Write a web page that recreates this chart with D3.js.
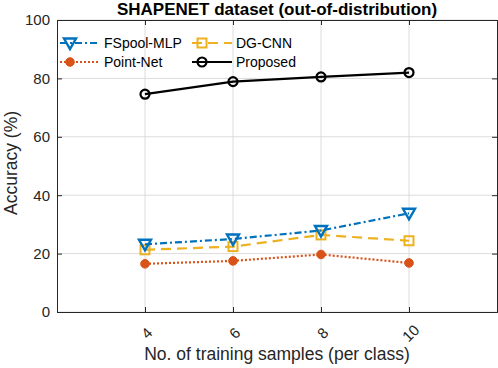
<!DOCTYPE html>
<html><head><meta charset="utf-8">
<script src="https://cdn.jsdelivr.net/npm/d3@7"></script>
<style>body{margin:0;background:#fff;} text{font-family:"Liberation Sans",Arial,Helvetica,sans-serif;}</style>
</head><body>
<svg id="c" width="498" height="368"></svg>
<script>
const samples = [4, 6, 8, 10];
const fspool = [23.2, 25.0, 27.9, 33.8];
const dgcnn = [21.3, 22.4, 26.4, 24.4];
const pointnet = [16.5, 17.5, 19.7, 16.8];
const proposed = [74.6, 78.9, 80.5, 82.0];
const yTicks = [0, 20, 40, 60, 80, 100];
const xTicks = [4, 6, 8, 10];

const svg = d3.select('#c');
const L = 57, R = 497, T = 20, B = 312;
const x = d3.scaleLinear().domain([2, 12]).range([L, R]);
const y = d3.scaleLinear().domain([0, 100]).range([B, T]);
const axisCol = '#262626';

// grid
const g = svg.append('g');
g.selectAll('.gx').data(xTicks).enter().append('line')
  .attr('x1', d => x(d)).attr('x2', d => x(d)).attr('y1', T).attr('y2', B)
  .attr('stroke', '#dcdcdc').attr('stroke-width', 1);
g.selectAll('.gy').data(yTicks).enter().append('line')
  .attr('y1', d => y(d)).attr('y2', d => y(d)).attr('x1', L).attr('x2', R)
  .attr('stroke', '#dcdcdc').attr('stroke-width', 1);

// axes with inward ticks
const ax = svg.append('g');
const yAx = ax.append('g').attr('transform', `translate(${L},0)`)
  .call(d3.axisLeft(y).tickValues(yTicks).tickSize(-5).tickPadding(7).tickFormat(d3.format('d')));
const yAxR = ax.append('g').attr('transform', `translate(${R},0)`)
  .call(d3.axisRight(y).tickValues(yTicks).tickSize(-5).tickFormat(''));
const xAx = ax.append('g').attr('transform', `translate(0,${B})`)
  .call(d3.axisBottom(x).tickValues(xTicks).tickSize(-5).tickFormat(''));
const xAxT = ax.append('g').attr('transform', `translate(0,${T})`)
  .call(d3.axisTop(x).tickValues(xTicks).tickSize(-5).tickFormat(''));
[yAx, yAxR, xAx, xAxT].forEach(a => {
  a.select('.domain').attr('stroke', axisCol).attr('stroke-width', 1);
  a.selectAll('.tick line').attr('stroke', axisCol);
});
yAx.selectAll('.tick text').attr('font-size', 15).attr('fill', axisCol)
  .attr('font-family', '"Liberation Sans",Arial,sans-serif');
// x tick labels rotated
xAx.selectAll('.tick').append('text')
  .attr('x', 1).attr('y', 21)
  .attr('transform', 'rotate(-45,1,21)')
  .attr('text-anchor', 'middle').attr('dominant-baseline', 'central')
  .attr('font-size', 15).attr('fill', axisCol)
  .text(d => d);

// title and labels
svg.append('text').attr('x', (L + R) / 2).attr('y', 15).attr('text-anchor', 'middle')
  .attr('font-size', 17).attr('font-weight', 'bold').attr('fill', '#000')
  .text('SHAPENET dataset (out-of-distribution)');
svg.append('text').attr('x', (L + R) / 2).attr('y', 360).attr('text-anchor', 'middle')
  .attr('font-size', 17.5).attr('fill', axisCol)
  .text('No. of training samples (per class)');
svg.append('text').attr('transform', `translate(17,${(T + B) / 2 - 3}) rotate(-90)`)
  .attr('text-anchor', 'middle').attr('font-size', 17.5).attr('fill', axisCol)
  .text('Accuracy (%)');

const series = [
  {name: 'FSpool-MLP', vals: fspool, color: '#0072BD', dash: '7,3,2,3', marker: 'tri'},
  {name: 'DG-CNN', vals: dgcnn, color: '#EDB120', dash: '10,6', marker: 'sq'},
  {name: 'Point-Net', vals: pointnet, color: '#D95319', dash: '2,2', marker: 'dot'},
  {name: 'Proposed', vals: proposed, color: '#000000', dash: null, marker: 'circ'}
];

function drawMarker(sel, m, color) {
  if (m === 'tri') {
    sel.append('path').attr('d', 'M-6,-4.5 L6,-4.5 L0,6 Z')
      .attr('fill', 'none').attr('stroke', color).attr('stroke-width', 2.4).attr('stroke-linejoin', 'miter');
  } else if (m === 'sq') {
    sel.append('rect').attr('x', -4.5).attr('y', -4.5).attr('width', 9).attr('height', 9)
      .attr('fill', 'none').attr('stroke', color).attr('stroke-width', 2);
  } else if (m === 'dot') {
    sel.append('circle').attr('r', 4.3).attr('fill', color).attr('stroke', color).attr('stroke-width', 1);
  } else {
    sel.append('circle').attr('r', 4.5).attr('fill', 'none').attr('stroke', color).attr('stroke-width', 2.2);
  }
}

const line = d3.line().x((d, i) => x(samples[i])).y(d => y(d));
const order = [series[2], series[1], series[0], series[3]];
order.forEach(s => {
  svg.append('path').datum(s.vals).attr('d', line)
    .attr('fill', 'none').attr('stroke', s.color).attr('stroke-width', 2.2)
    .attr('stroke-dasharray', s.dash);
  s.vals.forEach((v, i) => {
    const mg = svg.append('g').attr('transform', `translate(${x(samples[i])},${y(v)})`);
    drawMarker(mg, s.marker, s.color);
  });
});

// legend
const legPos = [
  {s: series[0], lx: 60, ly: 43},
  {s: series[1], lx: 192, ly: 43},
  {s: series[2], lx: 60, ly: 62},
  {s: series[3], lx: 192, ly: 62}
];
legPos.forEach(p => {
  const lg = svg.append('g');
  lg.append('line').attr('x1', p.lx).attr('x2', p.lx + 40).attr('y1', p.ly).attr('y2', p.ly)
    .attr('stroke', p.s.color).attr('stroke-width', 2.2).attr('stroke-dasharray', p.s.dash);
  const mg = lg.append('g').attr('transform', `translate(${p.lx + 10},${p.ly})`);
  drawMarker(mg, p.s.marker, p.s.color);
  lg.append('text').attr('x', p.lx + 44).attr('y', p.ly).attr('dominant-baseline', 'central')
    .attr('font-size', 14).attr('fill', '#000').text(p.s.name);
});
</script>
</body></html>
